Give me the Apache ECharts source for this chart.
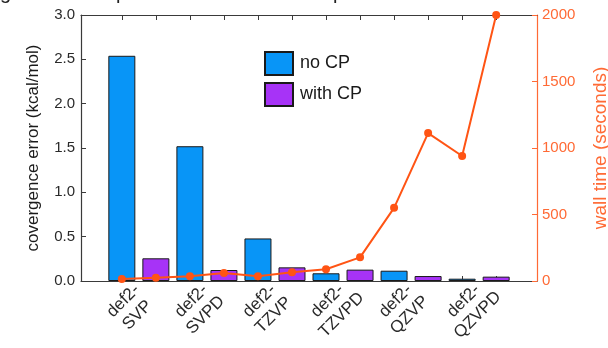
<!DOCTYPE html>
<html>
<head>
<meta charset="utf-8">
<script src="https://cdn.jsdelivr.net/npm/echarts@6/dist/echarts.min.js"></script>
<style>
html,body{margin:0;padding:0;background:#fff;}
#chart{width:608px;height:348px;}
</style>
</head>
<body>
<div id="chart"></div>
<script>
var categories = ['def2-\nSVP', 'def2-\nSVPD', 'def2-\nTZVP', 'def2-\nTZVPD', 'def2-\nQZVP', 'def2-\nQZVPD'];
var noCP = [2.54, 1.52, 0.48, 0.087, 0.116, 0.026];
var withCP = [0.256, 0.124, 0.154, 0.128, 0.056, 0.049];
var wallTime = [15, 25, 35, 60, 35, 65, 88, 178, 550, 1112, 940, 2000];
var leftTicks = [0, 0.5, 1.0, 1.5, 2.0, 2.5, 3.0];
var rightTicks = [0, 500, 1000, 1500, 2000];

var FONT = 'Liberation Sans';
var ORANGE = '#ff5414';
var ORANGE_TXT = '#ff6a35';
var AXIS = '#3a3a3a';

var positions = wallTime.map(function (_, i) { return i + 1; });
var noCPData = noCP.map(function (v, i) { return [2 * i + 1, v]; });
var withCPData = withCP.map(function (v, i) { return [2 * i + 2, v]; });
var lineData = wallTime.map(function (v, i) { return [i + 1, v]; });
var LABEL_SHIFT = -0.25;
var labelPos = categories.map(function (_, i) { return 2 * i + 1.5 + LABEL_SHIFT; });

var chart = echarts.init(document.getElementById('chart'), null, {renderer: 'canvas'});
chart.setOption({
  animation: false,
  backgroundColor: '#fff',
  textStyle: {fontFamily: FONT},
  grid: {left: 81, top: 15, width: 456, height: 266, containLabel: false, outerBoundsMode: 'none'},
  legend: {
    orient: 'vertical', left: 259, top: 46, itemWidth: 28, itemHeight: 23, itemGap: 6,
    icon: 'rect',
    textStyle: {fontSize: 18, color: '#1a1a1a', fontFamily: FONT, padding: [0, 0, 0, 2]},
    data: ['no CP', 'with CP']
  },
  graphic: [
    {type: 'text', left: 0, top: -17, style: {text: 'g', fontSize: 20, fontFamily: FONT, fill: '#222'}},
    {type: 'text', left: 116, top: -17, style: {text: 'p', fontSize: 20, fontFamily: FONT, fill: '#222'}},
    {type: 'text', left: 333, top: -17, style: {text: 'p', fontSize: 20, fontFamily: FONT, fill: '#222'}}
  ],
  xAxis: [{
    type: 'value', min: -0.2, max: 13.2, position: 'bottom',
    axisLine: {show: true, onZero: false, lineStyle: {color: AXIS, width: 1.2}},
    axisTick: {show: true, inside: true, length: 5, customValues: positions, lineStyle: {color: AXIS}},
    axisLabel: {
      show: true, customValues: labelPos, rotate: 45, margin: 27, fontSize: 17, color: '#2a2a2a',
      fontFamily: FONT, lineHeight: 20, align: 'center', verticalAlign: 'middle',
      formatter: function (v) { return categories[Math.round((v - 1.5 - LABEL_SHIFT) / 2)] || ''; }
    },
    splitLine: {show: false}
  }, {
    type: 'value', min: -0.2, max: 13.2, position: 'top',
    axisLine: {show: true, onZero: false, lineStyle: {color: AXIS, width: 1.2}},
    axisTick: {show: true, inside: true, length: 5, customValues: positions, lineStyle: {color: AXIS}},
    axisLabel: {show: false},
    splitLine: {show: false}
  }],
  yAxis: [{
    type: 'value', min: 0, max: 3, interval: 0.5, position: 'left',
    name: 'covergence error (kcal/mol)', nameLocation: 'middle', nameGap: 39, nameRotate: 90,
    nameTextStyle: {fontSize: 17, color: '#1a1a1a', fontFamily: FONT},
    axisLine: {show: true, onZero: false, lineStyle: {color: AXIS, width: 1.2}},
    axisTick: {show: true, inside: true, length: 5, lineStyle: {color: AXIS}},
    axisLabel: {fontSize: 15, color: '#2a2a2a', margin: 6, fontFamily: FONT,
      formatter: function (v) { return v.toFixed(1); }},
    splitLine: {show: false}
  }, {
    type: 'value', min: 0, max: 2000, interval: 500, position: 'right',
    name: 'wall time (seconds)', nameLocation: 'middle', nameGap: 54, nameRotate: 90,
    nameTextStyle: {fontSize: 19, color: ORANGE_TXT, fontFamily: FONT},
    axisLine: {show: true, onZero: false, lineStyle: {color: ORANGE_TXT, width: 1.2}},
    axisTick: {show: true, inside: true, length: 5, lineStyle: {color: ORANGE_TXT}},
    axisLabel: {fontSize: 15, color: ORANGE_TXT, margin: 5, fontFamily: FONT,
      formatter: function (v) { return String(v); }},
    splitLine: {show: false}
  }],
  series: [{
    name: 'no CP', type: 'bar', xAxisIndex: 0, yAxisIndex: 0, data: noCPData,
    barWidth: 27, barGap: '-100%',
    itemStyle: {color: '#0895f7', borderColor: '#1a1a1a', borderWidth: 1}
  }, {
    name: 'with CP', type: 'bar', xAxisIndex: 0, yAxisIndex: 0, data: withCPData,
    barWidth: 27, barGap: '-100%',
    itemStyle: {color: '#a733f7', borderColor: '#1a1a1a', borderWidth: 1}
  }, {
    name: 'wall time', type: 'line', xAxisIndex: 0, yAxisIndex: 1, data: lineData,
    symbol: 'circle', symbolSize: 8, z: 5,
    lineStyle: {color: ORANGE, width: 2}, itemStyle: {color: ORANGE}
  }]
});
</script>
</body>
</html>
